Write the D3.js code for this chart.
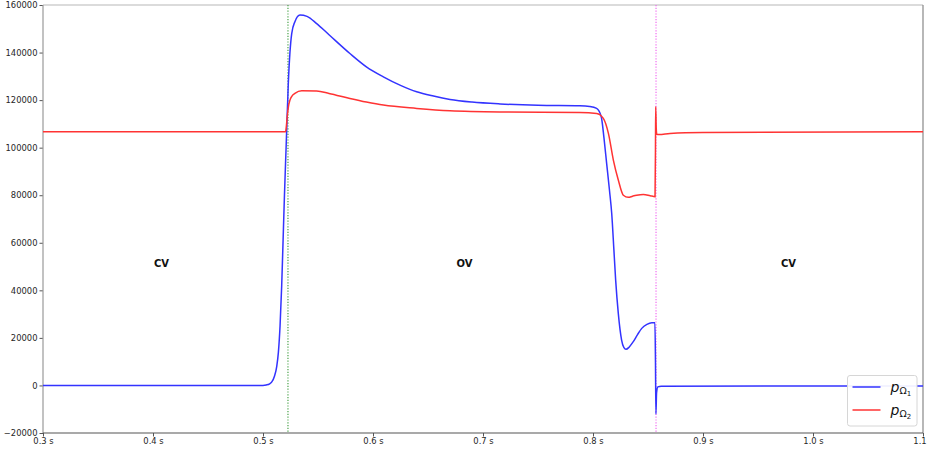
<!DOCTYPE html>
<html>
<head>
<meta charset="utf-8">
<script src="https://cdn.jsdelivr.net/npm/d3@7"></script>
<style>
  body { margin: 0; background: #fff; }
  svg { display: block; font-family: "DejaVu Sans", sans-serif; }
</style>
</head>
<body>
<div id="wrapper"></div>
<script>
// time (s) and pressure for both chambers
const blueT = [0.30, 0.50, 0.503, 0.506, 0.508, 0.5105, 0.5125, 0.514, 0.5155, 0.517, 0.518, 0.5195, 0.521, 0.523, 0.5245, 0.5261, 0.529, 0.5336, 0.54, 0.5488, 0.56, 0.579, 0.594, 0.6094, 0.625, 0.6397, 0.655, 0.67, 0.69, 0.7155, 0.75, 0.788, 0.797, 0.8033, 0.8075, 0.81, 0.8124, 0.815, 0.817, 0.819, 0.8206, 0.823, 0.826, 0.828, 0.83, 0.833, 0.8366, 0.8405, 0.8443, 0.849, 0.8534, 0.8563, 0.8568, 0.8572, 0.8578, 0.859, 0.862, 1.1];
const blueP = [0, 0, 200, 700, 1500, 4000, 8000, 14000, 25000, 42000, 57000, 80000, 100000, 127000, 140000, 148000, 153000, 155800, 155200, 152200, 147500, 139600, 134000, 129800, 126200, 123500, 121700, 120300, 119200, 118400, 117800, 117600, 117300, 116500, 113000, 104000, 93400, 82000, 72400, 57000, 44300, 30300, 19100, 16000, 15200, 16200, 18400, 21400, 24000, 25700, 26400, 26400, 10000, -12000, -3000, -600, -300, -200];

const redT = [0.30, 0.5205, 0.521, 0.522, 0.5232, 0.5245, 0.5265, 0.529, 0.5352, 0.5488, 0.56, 0.579, 0.594, 0.6094, 0.6397, 0.67, 0.7155, 0.788, 0.8033, 0.8094, 0.814, 0.8185, 0.823, 0.8276, 0.8321, 0.836, 0.8397, 0.8458, 0.852, 0.8564, 0.8568, 0.857, 0.8575, 0.858, 0.86, 0.87, 0.9, 1.1];
const redP = [106700, 106700, 108000, 113000, 117500, 120000, 121800, 122800, 123900, 123800, 122800, 120700, 119200, 117900, 116500, 115500, 115000, 114800, 114400, 112300, 106000, 94800, 86400, 80000, 79100, 79600, 80000, 80300, 79800, 79400, 100000, 117200, 108000, 105600, 105500, 106000, 106400, 106700];

const valveTimes = [0.5227, 0.8573];
const phaseLabels = ["CV", "OV", "CV"];
const phaseT = [0.4, 0.675, 0.97];
const phaseP = 50000;

const xTicks = [0.3, 0.4, 0.5, 0.6, 0.7, 0.8, 0.9, 1.0, 1.1];
const yTicks = [-20000, 0, 20000, 40000, 60000, 80000, 100000, 120000, 140000, 160000];

function buildPlot() {
    var dimension = {
        width: 929,
        height: 450,
        margin: { top: 5, left: 43, bottom: 17, right: 6 }
    };
    dimension.boundedWidth = dimension.width - dimension.margin.left - dimension.margin.right;
    dimension.boundedHeight = dimension.height - dimension.margin.top - dimension.margin.bottom;

    const svg = d3.select("#wrapper").append("svg")
        .attr("width", dimension.width)
        .attr("height", dimension.height);

    const bounds = svg.append("g")
        .attr("transform", `translate(${dimension.margin.left},${dimension.margin.top})`);

    const xScaler = d3.scaleLinear().domain([0.3, 1.1]).range([0, dimension.boundedWidth]);
    const yScaler = d3.scaleLinear().domain([-20000, 160000]).range([dimension.boundedHeight, 0]);

    // axes
    const xAxis = bounds.append("g")
        .attr("transform", `translate(0,${dimension.boundedHeight})`)
        .call(d3.axisBottom(xScaler).tickValues(xTicks).tickSize(3.5).tickPadding(2)
            .tickFormat(d => d3.format(".1f")(d) + " s"));
    const yAxis = bounds.append("g")
        .call(d3.axisLeft(yScaler).tickValues(yTicks).tickSize(3.5).tickPadding(2)
            .tickFormat(d => d < 0 ? "\u2212" + Math.abs(d) : String(d)));

    [xAxis, yAxis].forEach(a => {
        a.selectAll("text").attr("fill", "#262626").style("font-size", "8.4px").style("font-family", "DejaVu Sans");
        a.selectAll(".tick line").attr("stroke", "#555");
        a.select(".domain").remove();
    });

    // spines
    const spines = [
        { x1: 0, y1: 0, x2: dimension.boundedWidth, y2: 0, c: "#b8b8b8" },
        { x1: dimension.boundedWidth, y1: 0, x2: dimension.boundedWidth, y2: dimension.boundedHeight, c: "#888" },
        { x1: 0, y1: 0, x2: 0, y2: dimension.boundedHeight, c: "#999" },
        { x1: 0, y1: dimension.boundedHeight, x2: dimension.boundedWidth, y2: dimension.boundedHeight, c: "#555" }
    ];
    bounds.selectAll("line.spine").data(spines).enter().append("line")
        .attr("class", "spine")
        .attr("x1", d => d.x1).attr("y1", d => d.y1)
        .attr("x2", d => d.x2).attr("y2", d => d.y2)
        .attr("stroke", d => d.c).attr("stroke-width", 1.2);

    const plot = bounds.append("g");

    // valve events
    plot.selectAll("line.valve").data(valveTimes).enter().append("line")
        .attr("class", "valve")
        .attr("x1", d => xScaler(d)).attr("x2", d => xScaler(d))
        .attr("y1", 0).attr("y2", dimension.boundedHeight)
        .attr("stroke", (d, i) => i === 0 ? "#3a9a3a" : "#f060f0")
        .attr("stroke-width", 1.1)
        .attr("stroke-dasharray", "1.2,1.6");

    const line = d3.line()
        .x(d => xScaler(d[0]))
        .y(d => yScaler(d[1]))
        .curve(d3.curveMonotoneX);

    const blueData = blueT.map((t, i) => [t, blueP[i]]);
    const redData = redT.map((t, i) => [t, redP[i]]);

    plot.append("path").datum(blueData)
        .attr("d", line).attr("fill", "none")
        .attr("stroke", "#3333ff").attr("stroke-width", 1.5);
    plot.append("path").datum(redData)
        .attr("d", line).attr("fill", "none")
        .attr("stroke", "#ff3333").attr("stroke-width", 1.5);

    // phase labels
    plot.selectAll("text.phase").data(phaseLabels).enter().append("text")
        .attr("class", "phase")
        .attr("x", (d, i) => xScaler(phaseT[i]) + 1)
        .attr("y", yScaler(phaseP))
        .attr("font-size", "10px").attr("font-weight", "bold")
        .attr("fill", "#111")
        .text(d => d);

    // legend
    const legend = svg.append("g").attr("transform", "translate(847.5,375.5)");
    legend.append("rect")
        .attr("width", 69.5).attr("height", 50.5).attr("rx", 2.5)
        .attr("fill", "#fff").attr("fill-opacity", 0.92)
        .attr("stroke", "#d6d6d6").attr("stroke-width", 1);
    const items = [{ c: "#3333ff", sub: "1" }, { c: "#ff3333", sub: "2" }];
    items.forEach((it, i) => {
        const y = 11.5 + i * 23;
        legend.append("line")
            .attr("x1", 5).attr("x2", 33).attr("y1", y).attr("y2", y)
            .attr("stroke", it.c).attr("stroke-width", 1.5);
        const t = legend.append("text")
            .attr("x", 43).attr("y", y + 4.5)
            .attr("fill", "#111").attr("font-size", "14px");
        t.append("tspan").attr("font-style", "italic").text("p");
        t.append("tspan").attr("font-size", "9.5px").attr("dy", 2.5).text("\u03A9");
        t.append("tspan").attr("font-size", "7px").attr("dy", 1.5).text(it.sub);
    });
}

buildPlot();
</script>
</body>
</html>
